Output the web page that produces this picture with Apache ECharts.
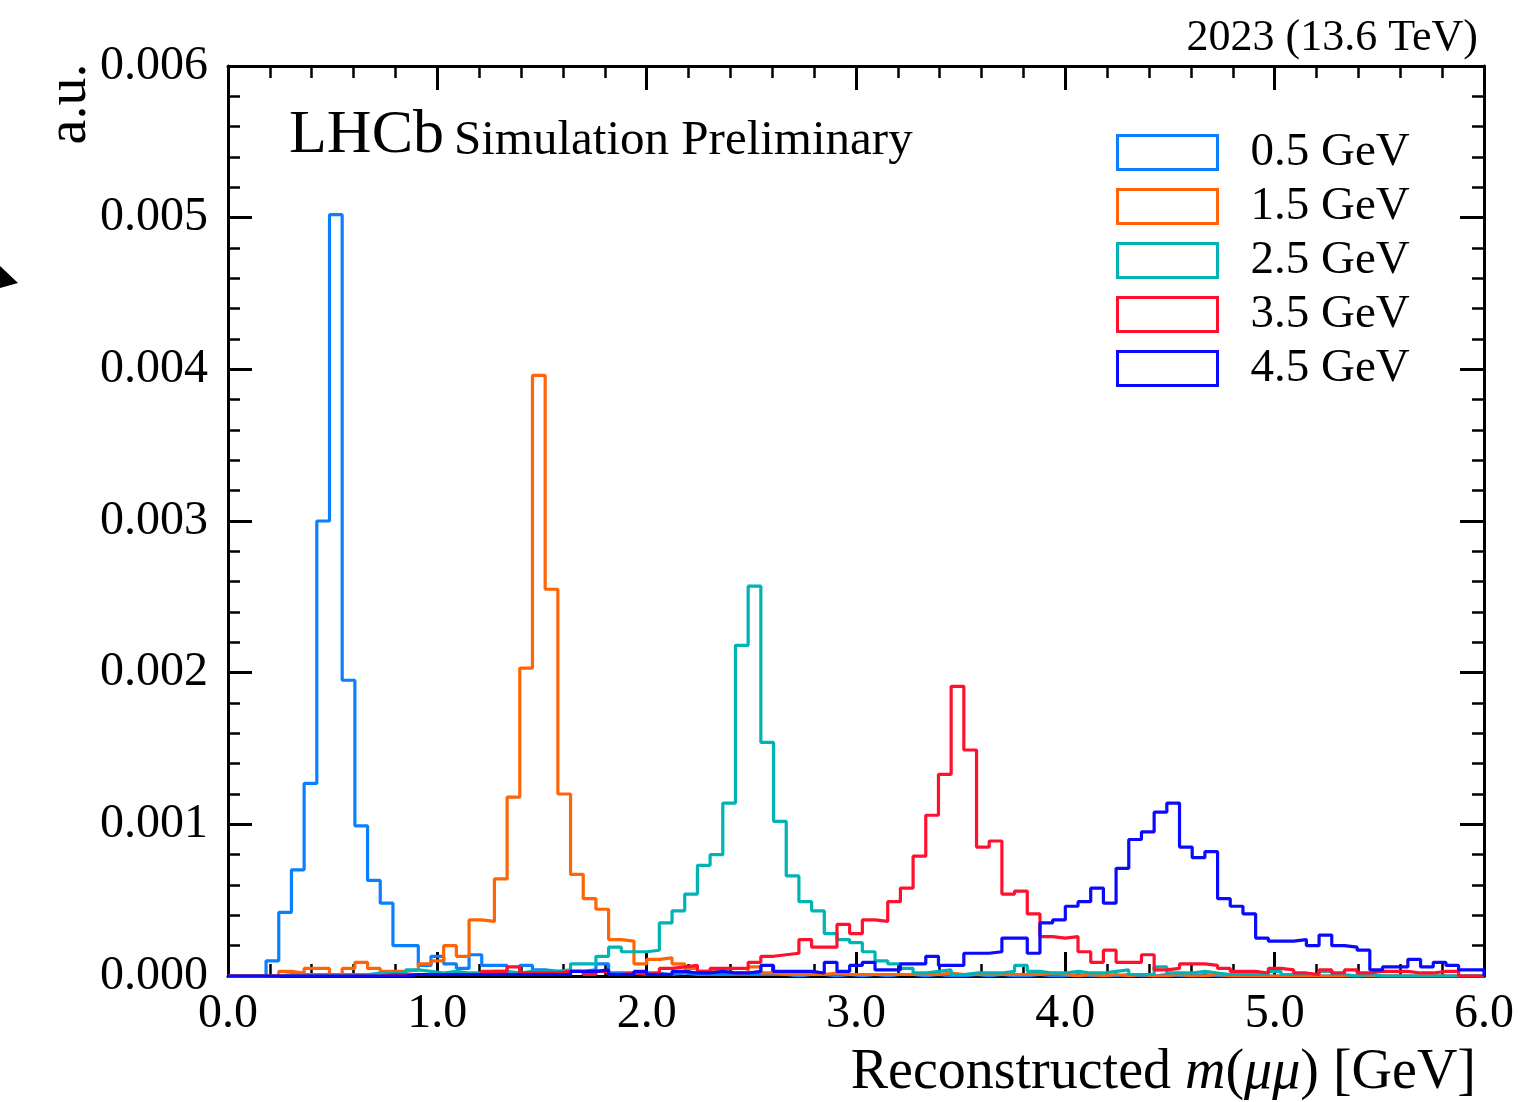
<!DOCTYPE html>
<html>
<head>
<meta charset="utf-8">
<script src="https://cdn.jsdelivr.net/npm/echarts@6/dist/echarts.min.js"></script>
<style>
  html, body { margin: 0; padding: 0; background: #fff; }
  #main { width: 1536px; height: 1102px; }
</style>
</head>
<body>
<div id="main"></div>
<script>
// binning: 99 equal bins between 0 and 6 GeV
var xMin = 0, xMax = 6, nBins = 99;

var names = ['0.5 GeV', '1.5 GeV', '2.5 GeV', '3.5 GeV', '4.5 GeV'];
var colors = ['#0a80ff', '#ff6407', '#00b4b6', '#ff102e', '#0a0aff'];

var mass05 = [
  0, 0, 0, 0.00010, 0.00042, 0.00070, 0.00127, 0.00300, 0.00502, 0.00195,
  0.00099, 0.00063, 0.00048, 0.00020, 0.00020, 0.00007, 0.00013, 0.00008, 0.00005, 0.00014,
  0.00007, 0.00007, 0.00002, 0.00007, 0.00004, 0.00003, 0.00003, 0.00003, 0.00004, 0.00008,
  0.00002, 0.00002, 0.00002, 0.00002, 0.00001, 0.00002, 0.00001, 0.00001, 0.00001, 0.00001,
  0.00001, 0.00001, 0.00001, 0.00001, 0, 0.00001, 0.00001, 0, 0.00001, 0,
  0.00001, 0, 0.00001, 0.00001, 0, 0.00001, 0, 0, 0.00001, 0,
  0.00001, 0, 0, 0.00001, 0, 0, 0.00001, 0, 0, 0,
  0.00001, 0, 0, 0.00001, 0, 0, 0.00001, 0, 0, 0,
  0, 0, 0, 0, 0, 0, 0, 0, 0, 0,
  0, 0, 0, 0, 0, 0, 0, 0, 0
];
var mass15 = [
  0, 0, 0, 0, 0.00003, 0.00002, 0.00005, 0.00005, 0.00001, 0.00005,
  0.00009, 0.00005, 0.00003, 0.00003, 0.00004, 0.00008, 0.00010, 0.00020, 0.00013, 0.00037,
  0.00036, 0.00064, 0.00118, 0.00203, 0.00396, 0.00255, 0.00120, 0.00067, 0.00051, 0.00044,
  0.00024, 0.00023, 0.00008, 0.00011, 0.00012, 0.00008, 0.00005, 0.00003, 0.00003, 0.00002,
  0.00002, 0.00006, 0.00002, 0.00001, 0.00001, 0.00001, 0.00001, 0.00002, 0.00001, 0.00001,
  0.00001, 0.00001, 0.00001, 0.00001, 0.00001, 0.00001, 0.00002, 0.00001, 0.00001, 0.00001,
  0.00001, 0.00001, 0.00001, 0.00001, 0.00002, 0.00001, 0, 0.00001, 0, 0.00001,
  0, 0.00001, 0, 0, 0.00001, 0, 0, 0.00001, 0, 0,
  0, 0, 0, 0, 0, 0, 0, 0, 0, 0,
  0, 0, 0, 0, 0, 0, 0, 0, 0
];
var mass25 = [
  0, 0, 0, 0, 0.00001, 0.00001, 0.00001, 0.00001, 0.00001, 0.00001,
  0.00001, 0.00002, 0.00002, 0.00002, 0.00004, 0.00003, 0.00002, 0.00003, 0.00002, 0.00002,
  0.00003, 0.00003, 0.00002, 0.00003, 0.00003, 0.00003, 0.00004, 0.00008, 0.00008, 0.00013,
  0.00019, 0.00016, 0.00016, 0.00017, 0.00035, 0.00043, 0.00054, 0.00073, 0.00080, 0.00114,
  0.00218, 0.00257, 0.00154, 0.00102, 0.00066, 0.00049, 0.00043, 0.00028, 0.00024, 0.00022,
  0.00016, 0.00010, 0.00008, 0.00005, 0.00002, 0.00003, 0.00004, 0.00001, 0.00002, 0.00002,
  0.00002, 0.00003, 0.00007, 0.00003, 0.00002, 0.00002, 0.00003, 0.00002, 0.00002, 0.00003,
  0.00004, 0.00001, 0.00001, 0.00006, 0.00002, 0.00002, 0.00003, 0.00002, 0.00001, 0.00001,
  0.00001, 0.00001, 0.00003, 0.00001, 0.00001, 0.00001, 0.00003, 0.00001, 0, 0.00001,
  0, 0, 0, 0, 0, 0, 0, 0, 0
];
var mass35 = [
  0, 0, 0, 0, 0, 0, 0, 0, 0, 0,
  0, 0, 0.00001, 0.00001, 0.00001, 0.00001, 0.00001, 0.00001, 0.00001, 0.00001,
  0.00003, 0.00003, 0.00006, 0.00002, 0.00002, 0.00002, 0.00003, 0.00003, 0.00001, 0.00003,
  0.00001, 0.00002, 0.00001, 0.00002, 0.00005, 0.00006, 0.00007, 0.00003, 0.00005, 0.00005,
  0.00005, 0.00009, 0.00013, 0.00014, 0.00015, 0.00024, 0.00019, 0.00019, 0.00034, 0.00028,
  0.00037, 0.00036, 0.00049, 0.00058, 0.00079, 0.00106, 0.00133, 0.00191, 0.00149, 0.00085,
  0.00089, 0.00054, 0.00056, 0.00041, 0.00026, 0.00025, 0.00026, 0.00016, 0.00009, 0.00017,
  0.00009, 0.00009, 0.00014, 0.00004, 0.00005, 0.00008, 0.00008, 0.00007, 0.00005, 0.00003,
  0.00003, 0.00002, 0.00005, 0.00004, 0.00002, 0.00001, 0.00004, 0.00002, 0.00004, 0.00002,
  0.00003, 0.00003, 0.00003, 0.00002, 0.00002, 0.00003, 0.00003, 0, 0
];
var mass45 = [
  0, 0, 0, 0, 0, 0, 0, 0, 0, 0,
  0, 0, 0, 0, 0.00001, 0.00001, 0.00001, 0.00001, 0.00001, 0.00001,
  0.00001, 0.00001, 0.00001, 0.00001, 0.00001, 0.00001, 0.00001, 0.00003, 0.00003, 0.00004,
  0.00001, 0.00001, 0.00003, 0.00001, 0.00001, 0.00003, 0.00002, 0.00002, 0.00003, 0.00002,
  0.00002, 0.00003, 0.00007, 0.00003, 0.00003, 0.00003, 0.00002, 0.00009, 0.00003, 0.00007,
  0.00009, 0.00004, 0.00004, 0.00008, 0.00008, 0.00013, 0.00007, 0.00007, 0.00015, 0.00015,
  0.00016, 0.00025, 0.00025, 0.00015, 0.00035, 0.00037, 0.00046, 0.00049, 0.00058, 0.00048,
  0.00071, 0.00090, 0.00095, 0.00108, 0.00114, 0.00085, 0.00078, 0.00082, 0.00051, 0.00046,
  0.00041, 0.00025, 0.00023, 0.00023, 0.00024, 0.00020, 0.00027, 0.00020, 0.00019, 0.00017,
  0.00004, 0.00006, 0.00006, 0.00011, 0.00006, 0.00009, 0.00007, 0.00004, 0.00004
];
var allMass = [mass05, mass15, mass25, mass35, mass45];

var serif = 'Liberation Serif';

var edges = [];
for (var i = 0; i <= nBins; i++) edges.push(xMin + i * (xMax - xMin) / nBins);

// histogram outline as step points
function stepData(vals) {
  var pts = [[edges[0], 0]];
  vals.forEach(function (v, i) { pts.push([edges[i], v]); });
  pts.push([edges[nBins], vals[nBins - 1]]);
  pts.push([edges[nBins], 0]);
  return pts;
}

var frameLine = { show: true, onZero: false, lineStyle: { color: '#000', width: 3 } };
var majTick = { show: true, inside: true, length: 24, lineStyle: { color: '#000', width: 3 } };
var minTick = { show: true, splitNumber: 5, length: 12, lineStyle: { color: '#000', width: 2.5 } };

var myChart = echarts.init(document.getElementById('main'));
myChart.setOption({
  animation: false,
  backgroundColor: '#fff',
  grid: { left: 228, right: 52, top: 66, bottom: 126 },
  xAxis: [{
    type: 'value', position: 'bottom', min: xMin, max: xMax, interval: 1,
    axisLine: frameLine, axisTick: majTick, minorTick: minTick,
    splitLine: { show: false },
    axisLabel: {
      margin: 14, color: '#000', fontFamily: serif, fontSize: 48,
      formatter: function (v) { return v.toFixed(1); }
    }
  }, {
    type: 'value', position: 'top', min: xMin, max: xMax, interval: 1,
    axisLine: frameLine, axisTick: majTick, minorTick: minTick,
    splitLine: { show: false }, axisLabel: { show: false }
  }],
  yAxis: [{
    type: 'value', position: 'left', min: 0, max: 0.006, interval: 0.001,
    axisLine: frameLine, axisTick: majTick, minorTick: minTick,
    splitLine: { show: false },
    axisLabel: {
      margin: 20, color: '#000', fontFamily: serif, fontSize: 48,
      formatter: function (v) { return v.toFixed(3); }
    }
  }, {
    type: 'value', position: 'right', min: 0, max: 0.006, interval: 0.001,
    axisLine: frameLine, axisTick: majTick, minorTick: minTick,
    splitLine: { show: false }, axisLabel: { show: false }
  }],
  legend: {
    orient: 'vertical', left: 1111, top: 124,
    itemWidth: 100, itemHeight: 34, itemGap: 7, icon: 'rect',
    textStyle: { color: '#000', fontFamily: serif, fontSize: 47, padding: [0, 0, 0, 28] },
    data: names.map(function (n, i) {
      return { name: n, icon: 'rect', itemStyle: { color: 'rgba(0,0,0,0)', borderColor: colors[i], borderWidth: 3 } };
    })
  },
  series: names.map(function (n, i) {
    return {
      name: n, type: 'line', step: 'end', showSymbol: false, legendIcon: 'rect',
      xAxisIndex: 0, yAxisIndex: 0,
      lineStyle: { color: colors[i], width: 3.2 },
      itemStyle: { color: colors[i] },
      data: stepData(allMass[i])
    };
  }),
  graphic: [
    { type: 'text', x: 1478, y: 38, style: { text: '2023 (13.6 TeV)', fill: '#000', font: '44px "Liberation Serif"', textAlign: 'right', textVerticalAlign: 'middle' } },
    { type: 'text', x: 289, y: 136, style: { text: 'LHCb', fill: '#000', font: '62px "Liberation Serif"', textAlign: 'left', textVerticalAlign: 'middle' } },
    { type: 'text', x: 454, y: 141, style: { text: 'Simulation Preliminary', fill: '#000', font: '49px "Liberation Serif"', textAlign: 'left', textVerticalAlign: 'middle' } },
    { type: 'text', x: 70, y: 104, rotation: Math.PI / 2, style: { text: 'a.u.', fill: '#000', font: '56px "Liberation Serif"', textAlign: 'center', textVerticalAlign: 'middle' } },
    { type: 'text', x: 1476, y: 1073, style: {
        text: 'Reconstructed {it|m}({it|μμ}) [GeV]', fill: '#000', font: '56px "Liberation Serif"',
        textAlign: 'right', textVerticalAlign: 'middle',
        rich: { it: { fontStyle: 'italic', fontFamily: serif, fontSize: 56 } }
    } },
    { type: 'polygon', shape: { points: [[0, 266], [18, 283], [0, 288]] }, style: { fill: '#000' } }
  ]
});
window.addEventListener('resize', function () { myChart.resize(); });
</script>
</body>
</html>
